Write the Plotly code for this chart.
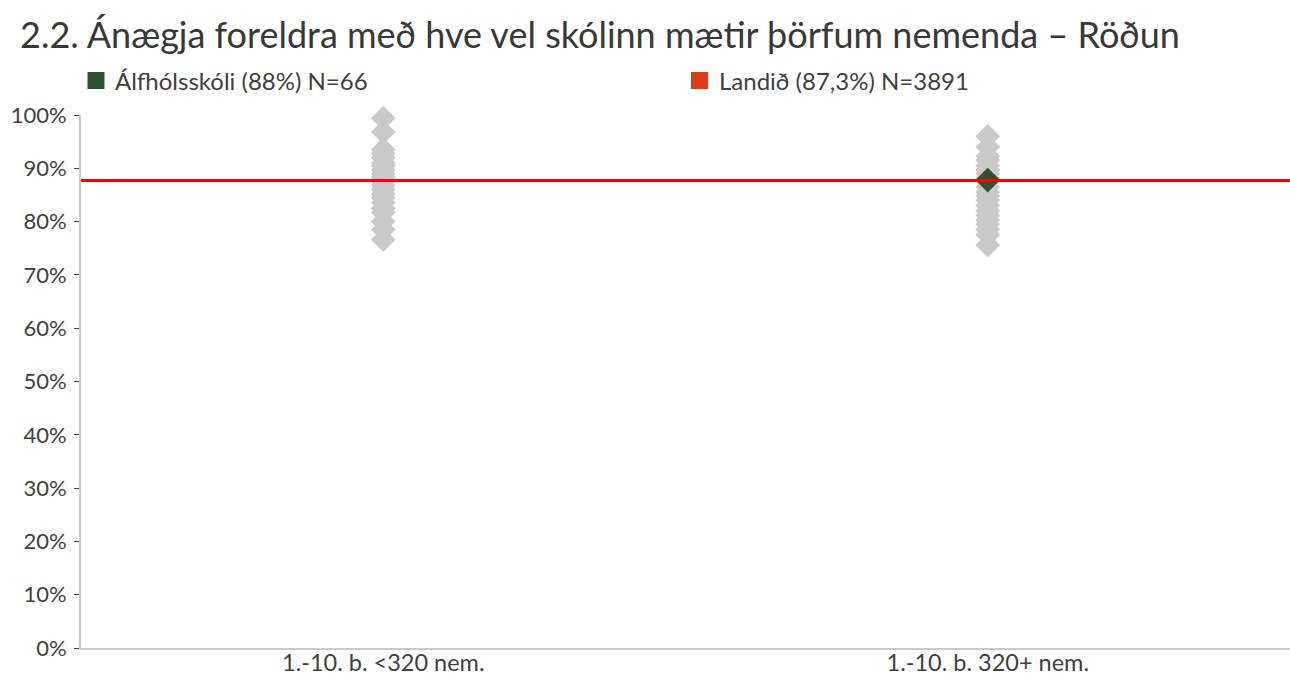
import plotly.graph_objects as go

# ---- data ----
categories = ["1.-10. b. <320 nem.", "1.-10. b. 320+ nem."]
small_schools = [99.4, 96.8, 93.5, 92.8, 92.0, 91.0, 90.5, 89.7, 89.0, 88.3, 87.5,
                 86.8, 86.0, 85.2, 84.5, 83.6, 82.5, 81.7, 80.0, 78.5, 76.6]
large_schools = [96.0, 94.0, 92.3, 91.5, 90.5, 89.7, 89.0, 88.2, 87.5, 86.5, 85.5,
                 84.8, 84.0, 83.0, 82.0, 81.2, 80.3, 79.5, 78.5, 77.5, 75.6]
school_name = "Álfhólsskóli (88%) N=66"
school_category = "1.-10. b. 320+ nem."
school_value = 87.8
national_name = "Landið (87,3%) N=3891"
national_value = 87.7
y_ticks = [0, 10, 20, 30, 40, 50, 60, 70, 80, 90, 100]
y_tick_labels = [f"{v}%" for v in y_ticks]
title_text = "2.2. Ánægja foreldra með hve vel skólinn mætir þörfum nemenda – Röðun"

GRAY = "#C9C9C9"
GREEN = "#2E5230"
RED = "#FF0000"
LEG_RED = "#E03A17"
TXT = "#404040"
FONT = "Lato"

fig = go.Figure()

fig.add_trace(go.Scatter(
    x=[categories[0]] * len(small_schools), y=small_schools, mode="markers",
    marker=dict(symbol="diamond", size=19, color=GRAY, line=dict(width=0)),
    showlegend=False, cliponaxis=False, hoverinfo="y"))
fig.add_trace(go.Scatter(
    x=[categories[1]] * len(large_schools), y=large_schools, mode="markers",
    marker=dict(symbol="diamond", size=19, color=GRAY, line=dict(width=0)),
    showlegend=False, cliponaxis=False, hoverinfo="y"))

# national line across the whole plot (category axis spans -0.5..1.5)
fig.add_trace(go.Scatter(
    x=[-0.5, 1.5], y=[national_value, national_value], mode="lines",
    line=dict(color=RED, width=3), showlegend=False, hoverinfo="skip",
    xaxis="x2"))

fig.add_trace(go.Scatter(
    x=[school_category], y=[school_value], mode="markers",
    marker=dict(symbol="diamond", size=19, color=GREEN, line=dict(width=0)),
    showlegend=False, cliponaxis=False, hoverinfo="y"))

L, R, T, B = 81, 0, 115, 28
W, H = 1290, 676
pw = W - L - R

def px_to_paper_x(px):
    return (px - L) / pw

def px_to_paper_y(py):
    return (H - B - py) / (H - T - B)

# legend swatches + text
legend_items = [(school_name, GREEN, 96), (national_name, LEG_RED, 699.5)]
shapes = []
annotations = []
for name, col, cx in legend_items:
    shapes.append(dict(type="rect", xref="paper", yref="paper",
                       x0=px_to_paper_x(cx - 8.5), x1=px_to_paper_x(cx + 8.5),
                       y0=px_to_paper_y(89), y1=px_to_paper_y(72),
                       fillcolor=col, line=dict(width=0)))
    annotations.append(dict(text=name, xref="paper", yref="paper",
                            x=px_to_paper_x(cx + 17), y=px_to_paper_y(81),
                            xanchor="left", yanchor="middle", showarrow=False,
                            font=dict(family=FONT, size=24, color=TXT)))

fig.update_layout(
    width=W, height=H,
    margin=dict(l=L, r=R, t=T, b=B, autoexpand=False),
    paper_bgcolor="white", plot_bgcolor="white",
    title=dict(text=title_text, x=0, xref="container", xanchor="left",
               y=1 - 35 / H, yanchor="middle", pad=dict(l=20),
               font=dict(family=FONT, size=36, color="#383838")),
    xaxis=dict(type="category", categoryorder="array", categoryarray=categories,
               range=[-0.5, 1.5], showgrid=False, zeroline=False,
               showline=True, linecolor=GRAY, linewidth=2,
               ticks="", ticklabelstandoff=-7, automargin=False,
               tickfont=dict(family=FONT, size=23.5, color=TXT)),
    xaxis2=dict(range=[-0.5, 1.5], overlaying="x", visible=False),
    yaxis=dict(range=[0, 100], tickvals=y_ticks, ticktext=y_tick_labels,
               showgrid=False, zeroline=False, showline=True, linecolor=GRAY,
               linewidth=2, ticks="outside", ticklen=5, tickcolor=TXT,
               tickwidth=1, ticklabelstandoff=3, automargin=False,
               tickfont=dict(family=FONT, size=22, color=TXT)),
    shapes=shapes, annotations=annotations,
    showlegend=False,
)

fig.write_html("out.html", config={"displayModeBar": False},
               post_script="document.body.style.margin='0';")
